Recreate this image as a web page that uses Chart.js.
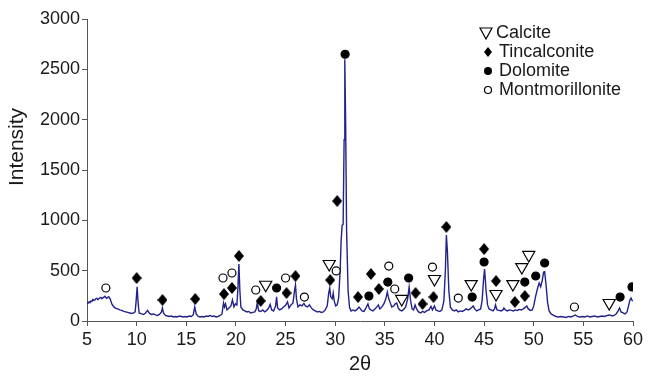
<!DOCTYPE html>
<html>
<head>
<meta charset="utf-8">
<script src="https://cdn.jsdelivr.net/npm/chart.js@4/dist/chart.umd.min.js"></script>
<style>
html,body{margin:0;padding:0;background:#fff}
</style>
</head>
<body>
<canvas id="xrdChart" width="648" height="378"></canvas>
<script>
// diffraction pattern, [2theta, intensity]
const pattern = [
  [5.0,175],[5.1,185],[5.2,190],[5.3,182],[5.4,200],[5.5,195],[5.6,215],[5.7,205],[5.8,210],[5.9,222],[6.0,225],
  [6.1,212],[6.2,220],[6.3,230],[6.4,235],[6.5,222],[6.6,230],[6.7,238],[6.8,245],[6.9,232],
  [7.0,225],[7.1,238],[7.2,240],[7.35,215],[7.5,170],[7.7,140],[7.9,125],[8.1,120],[8.3,110],[8.5,105],[8.7,95],
  [8.9,90],[9.1,85],[9.3,80],[9.5,75],[9.7,80],[9.85,90],[9.95,200],[10.05,340],[10.15,180],[10.25,80],
  [10.5,70],[10.7,65],[10.9,80],[11.1,105],[11.3,75],[11.5,65],[11.7,70],[11.9,60],[12.1,55],[12.3,65],
  [12.5,90],[12.6,130],[12.7,80],[12.9,55],[13.1,50],[13.3,45],[13.5,50],[13.7,40],[13.9,45],[14.1,40],
  [14.3,50],[14.5,45],[14.7,40],[14.9,45],[15.1,40],[15.3,50],[15.5,45],[15.7,60],[15.85,140],[16.0,70],
  [16.2,45],[16.4,40],[16.6,45],[16.8,40],[17.0,50],[17.2,45],[17.4,55],[17.6,45],[17.8,50],[18.0,40],
  [18.2,45],[18.4,55],[18.6,70],[18.75,180],[18.85,140],[18.95,170],[19.1,110],[19.3,130],[19.5,150],[19.65,210],
  [19.8,140],[19.95,170],[20.1,160],[20.2,320],[20.3,566],[20.4,300],[20.5,140],[20.7,110],[20.9,100],[21.1,90],
  [21.3,95],[21.5,80],[21.7,85],[21.9,90],[22.05,120],[22.15,180],[22.3,100],[22.5,95],[22.7,110],[22.9,90],
  [23.1,105],[23.3,130],[23.45,165],[23.6,110],[23.8,100],[24.0,150],[24.1,240],[24.2,130],[24.4,110],[24.6,120],
  [24.8,140],[25.0,155],[25.2,190],[25.35,130],[25.55,160],[25.75,180],[25.9,300],[26.0,358],[26.1,220],[26.25,140],
  [26.45,160],[26.65,150],[26.85,175],[27.0,150],[27.2,140],[27.4,160],[27.6,130],[27.8,110],[28.0,100],[28.2,90],
  [28.4,95],[28.6,85],[28.8,90],[29.0,110],[29.2,150],[29.35,280],[29.45,328],[29.55,240],[29.7,220],[29.8,278],
  [29.9,200],[30.05,150],[30.2,160],[30.35,230],[30.5,500],[30.6,800],[30.7,950],[30.8,960],[30.9,1800],[30.97,2600],
  [31.05,2000],[31.15,900],[31.3,300],[31.45,130],[31.6,100],[31.8,110],[32.0,100],[32.2,115],[32.4,139],[32.55,120],
  [32.7,100],[32.9,95],[33.1,130],[33.3,169],[33.45,120],[33.6,110],[33.8,100],[34.0,120],[34.2,140],[34.35,159],
  [34.5,120],[34.7,140],[34.9,170],[35.1,220],[35.25,288],[35.4,220],[35.55,180],[35.7,140],[35.9,150],[36.05,170],
  [36.2,179],[36.35,130],[36.5,110],[36.7,100],[36.9,115],[37.1,140],[37.3,220],[37.45,338],[37.6,200],[37.75,120],
  [37.9,110],[38.05,160],[38.2,120],[38.4,90],[38.6,80],[38.8,95],[39.0,85],[39.2,100],[39.45,110],[39.65,145],
  [39.8,110],[40.0,149],[40.15,110],[40.35,100],[40.55,95],[40.75,110],[40.95,200],[41.1,500],[41.2,854],[41.3,700],
  [41.45,300],[41.6,140],[41.8,110],[42.0,100],[42.2,110],[42.4,90],[42.6,100],[42.8,95],[43.0,105],[43.2,120],
  [43.4,110],[43.6,120],[43.8,140],[43.9,149],[44.05,120],[44.25,100],[44.45,110],[44.65,120],[44.8,200],[44.95,420],
  [45.05,517],[45.2,300],[45.35,160],[45.5,120],[45.7,110],[45.9,100],[46.05,120],[46.15,159],[46.3,110],[46.5,105],
  [46.7,100],[46.9,110],[47.0,129],[47.15,110],[47.35,100],[47.55,110],[47.75,105],[47.95,100],[48.15,110],[48.35,105],
  [48.55,115],[48.75,110],[48.95,120],[49.15,135],[49.3,149],[49.45,120],[49.65,105],[49.85,110],[50.0,150],[50.2,250],
  [50.4,330],[50.55,377],[50.7,340],[50.85,400],[51.0,487],[51.1,490],[51.25,350],[51.4,180],[51.55,100],[51.75,70],
  [52.0,55],[52.25,45],[52.5,40],[52.75,45],[53.0,40],[53.25,35],[53.5,45],[53.75,40],[54.0,50],[54.2,60],
  [54.4,45],[54.65,40],[54.9,45],[55.15,40],[55.4,50],[55.65,40],[55.9,45],[56.15,50],[56.4,40],[56.65,45],
  [56.9,50],[57.15,45],[57.4,55],[57.65,60],[57.9,50],[58.1,55],[58.3,70],[58.5,100],[58.65,130],[58.8,90],
  [59.0,80],[59.2,70],[59.4,90],[59.55,150],[59.7,210],[59.8,228],[59.9,205],[60.0,200]
];

// phase markers, [2theta, height of symbol]
const calcite = [[23.0,360],[29.4,566],[36.7,219],[40.0,417],[43.7,367],[46.2,268],[47.9,367],[48.8,536],[49.5,656],[57.6,179]];
const tincalconite = [[10.0,427],[12.6,209],[15.9,219],[18.8,268],[19.6,328],[20.3,646],[22.5,199],[25.1,278],[26.0,447],[29.5,407],[30.2,1192],[32.3,238],[33.6,467],[34.4,318],[38.1,278],[38.8,169],[39.9,238],[41.2,934],[45.0,715],[46.2,397],[48.1,189],[49.1,248]];
const dolomite = [[24.1,328],[31.0,2650],[33.4,248],[35.3,387],[37.4,427],[43.8,238],[45.0,586],[49.1,387],[50.2,447],[51.1,576],[58.7,238],[59.9,338]];
const montmorillonite = [[6.9,328],[18.7,427],[19.6,477],[22.0,308],[25.0,427],[26.9,238],[30.1,497],[35.4,546],[36.0,318],[39.8,536],[42.4,228],[54.1,139]];

const legendNames = ["Calcite","Tincalconite","Dolomite","Montmorillonite"];

const FONT = "'Liberation Sans', Arial, Helvetica, sans-serif";
const INK = "#1a1a1a";
const AXIS = "#555";
const LINE = "#22228a";

const toPoints = arr => arr.map(p => ({x:p[0], y:p[1]}));

// slightly tall diamond, like the printed symbol
function diamondCanvas(w, h){
    const c = document.createElement("canvas");
    c.width = w;
    c.height = h;
    const g = c.getContext("2d");
    g.fillStyle = "#000";
    g.beginPath();
    g.moveTo(w / 2, 0);
    g.lineTo(w, h / 2);
    g.lineTo(w / 2, h);
    g.lineTo(0, h / 2);
    g.closePath();
    g.fill();
    return c;
}
const diamondImg = diamondCanvas(10, 12);

function drawMarker(ctx, kind, x, y){
    ctx.save();
    ctx.lineWidth = 1.2;
    ctx.strokeStyle = "#000";
    ctx.fillStyle = "#000";
    ctx.beginPath();
    if(kind === 0){
        ctx.moveTo(x - 6, y - 5);
        ctx.lineTo(x + 6, y - 5);
        ctx.lineTo(x, y + 6);
        ctx.closePath();
        ctx.fillStyle = "#fff";
        ctx.fill();
        ctx.stroke();
    } else if(kind === 1){
        ctx.moveTo(x, y - 5);
        ctx.lineTo(x + 4, y);
        ctx.lineTo(x, y + 5);
        ctx.lineTo(x - 4, y);
        ctx.closePath();
        ctx.fill();
    } else if(kind === 2){
        ctx.arc(x, y, 4, 0, Math.PI * 2);
        ctx.fill();
    } else {
        ctx.arc(x, y, 3.5, 0, Math.PI * 2);
        ctx.fillStyle = "#fff";
        ctx.fill();
        ctx.stroke();
    }
    ctx.restore();
}

const extras = {
    id:"extras",
    afterDraw(chart){
        const ctx = chart.ctx;
        ctx.save();
        ctx.fillStyle = INK;
        ctx.font = "18px " + FONT;
        ctx.textBaseline = "middle";
        ctx.textAlign = "left";
        const rows = [33, 52, 71, 90];
        legendNames.forEach((name, i) => {
            drawMarker(ctx, i, i === 0 ? 486 : 488, rows[i]);
            ctx.fillStyle = INK;
            ctx.fillText(name, i === 0 ? 496 : 499, rows[i]);
        });
        // y axis title
        ctx.translate(17, 147);
        ctx.rotate(-Math.PI / 2);
        ctx.textAlign = "center";
        ctx.font = "21px " + FONT;
        ctx.fillText("Intensity", 0, 0);
        ctx.restore();
    }
};

const markerStyle = {
    showLine:false,
    pointBorderColor:"#000",
    pointBorderWidth:1.2,
    pointHoverRadius:0
};

new Chart(document.getElementById("xrdChart"), {
    type:"scatter",
    data:{
        datasets:[
            {
                label:"pattern",
                data:toPoints(pattern),
                showLine:true,
                borderColor:LINE,
                borderWidth:1.4,
                pointRadius:0,
                tension:0,
                order:5
            },
            {
                ...markerStyle,
                label:"Calcite",
                data:toPoints(calcite),
                pointStyle:"triangle",
                rotation:180,
                pointRadius:7,
                pointBackgroundColor:"#fff",
                order:1
            },
            {
                ...markerStyle,
                label:"Tincalconite",
                data:toPoints(tincalconite),
                pointStyle:diamondImg,
                pointRadius:6,
                order:1
            },
            {
                ...markerStyle,
                label:"Dolomite",
                data:toPoints(dolomite),
                pointStyle:"circle",
                pointRadius:4,
                pointBackgroundColor:"#000",
                order:1
            },
            {
                ...markerStyle,
                label:"Montmorillonite",
                data:toPoints(montmorillonite),
                pointStyle:"circle",
                pointRadius:4,
                pointBackgroundColor:"#fff",
                order:1
            }
        ]
    },
    options:{
        responsive:false,
        animation:false,
        layout:{padding:{top:19, right:15, left:0, bottom:0}},
        plugins:{
            legend:{display:false},
            tooltip:{enabled:false}
        },
        scales:{
            x:{
                type:"linear",
                min:5,
                max:60,
                ticks:{stepSize:5, color:INK, font:{family:FONT, size:18}, padding:3, maxRotation:0, callback:v => String(v)},
                grid:{drawOnChartArea:false, drawTicks:true, tickLength:5, color:AXIS},
                border:{color:AXIS, width:1},
                title:{display:true, text:"2θ", color:INK, font:{family:FONT, size:20}, padding:{top:0, bottom:2}},
                afterFit(scale){ scale.height = 57; }
            },
            y:{
                min:0,
                max:3000,
                ticks:{stepSize:500, color:INK, font:{family:FONT, size:18}, padding:2, callback:v => String(v)},
                grid:{drawOnChartArea:false, drawTicks:true, tickLength:5, color:AXIS},
                border:{color:AXIS, width:1},
                afterFit(scale){ scale.width = 87; }
            }
        }
    },
    plugins:[extras]
});
</script>
</body>
</html>
